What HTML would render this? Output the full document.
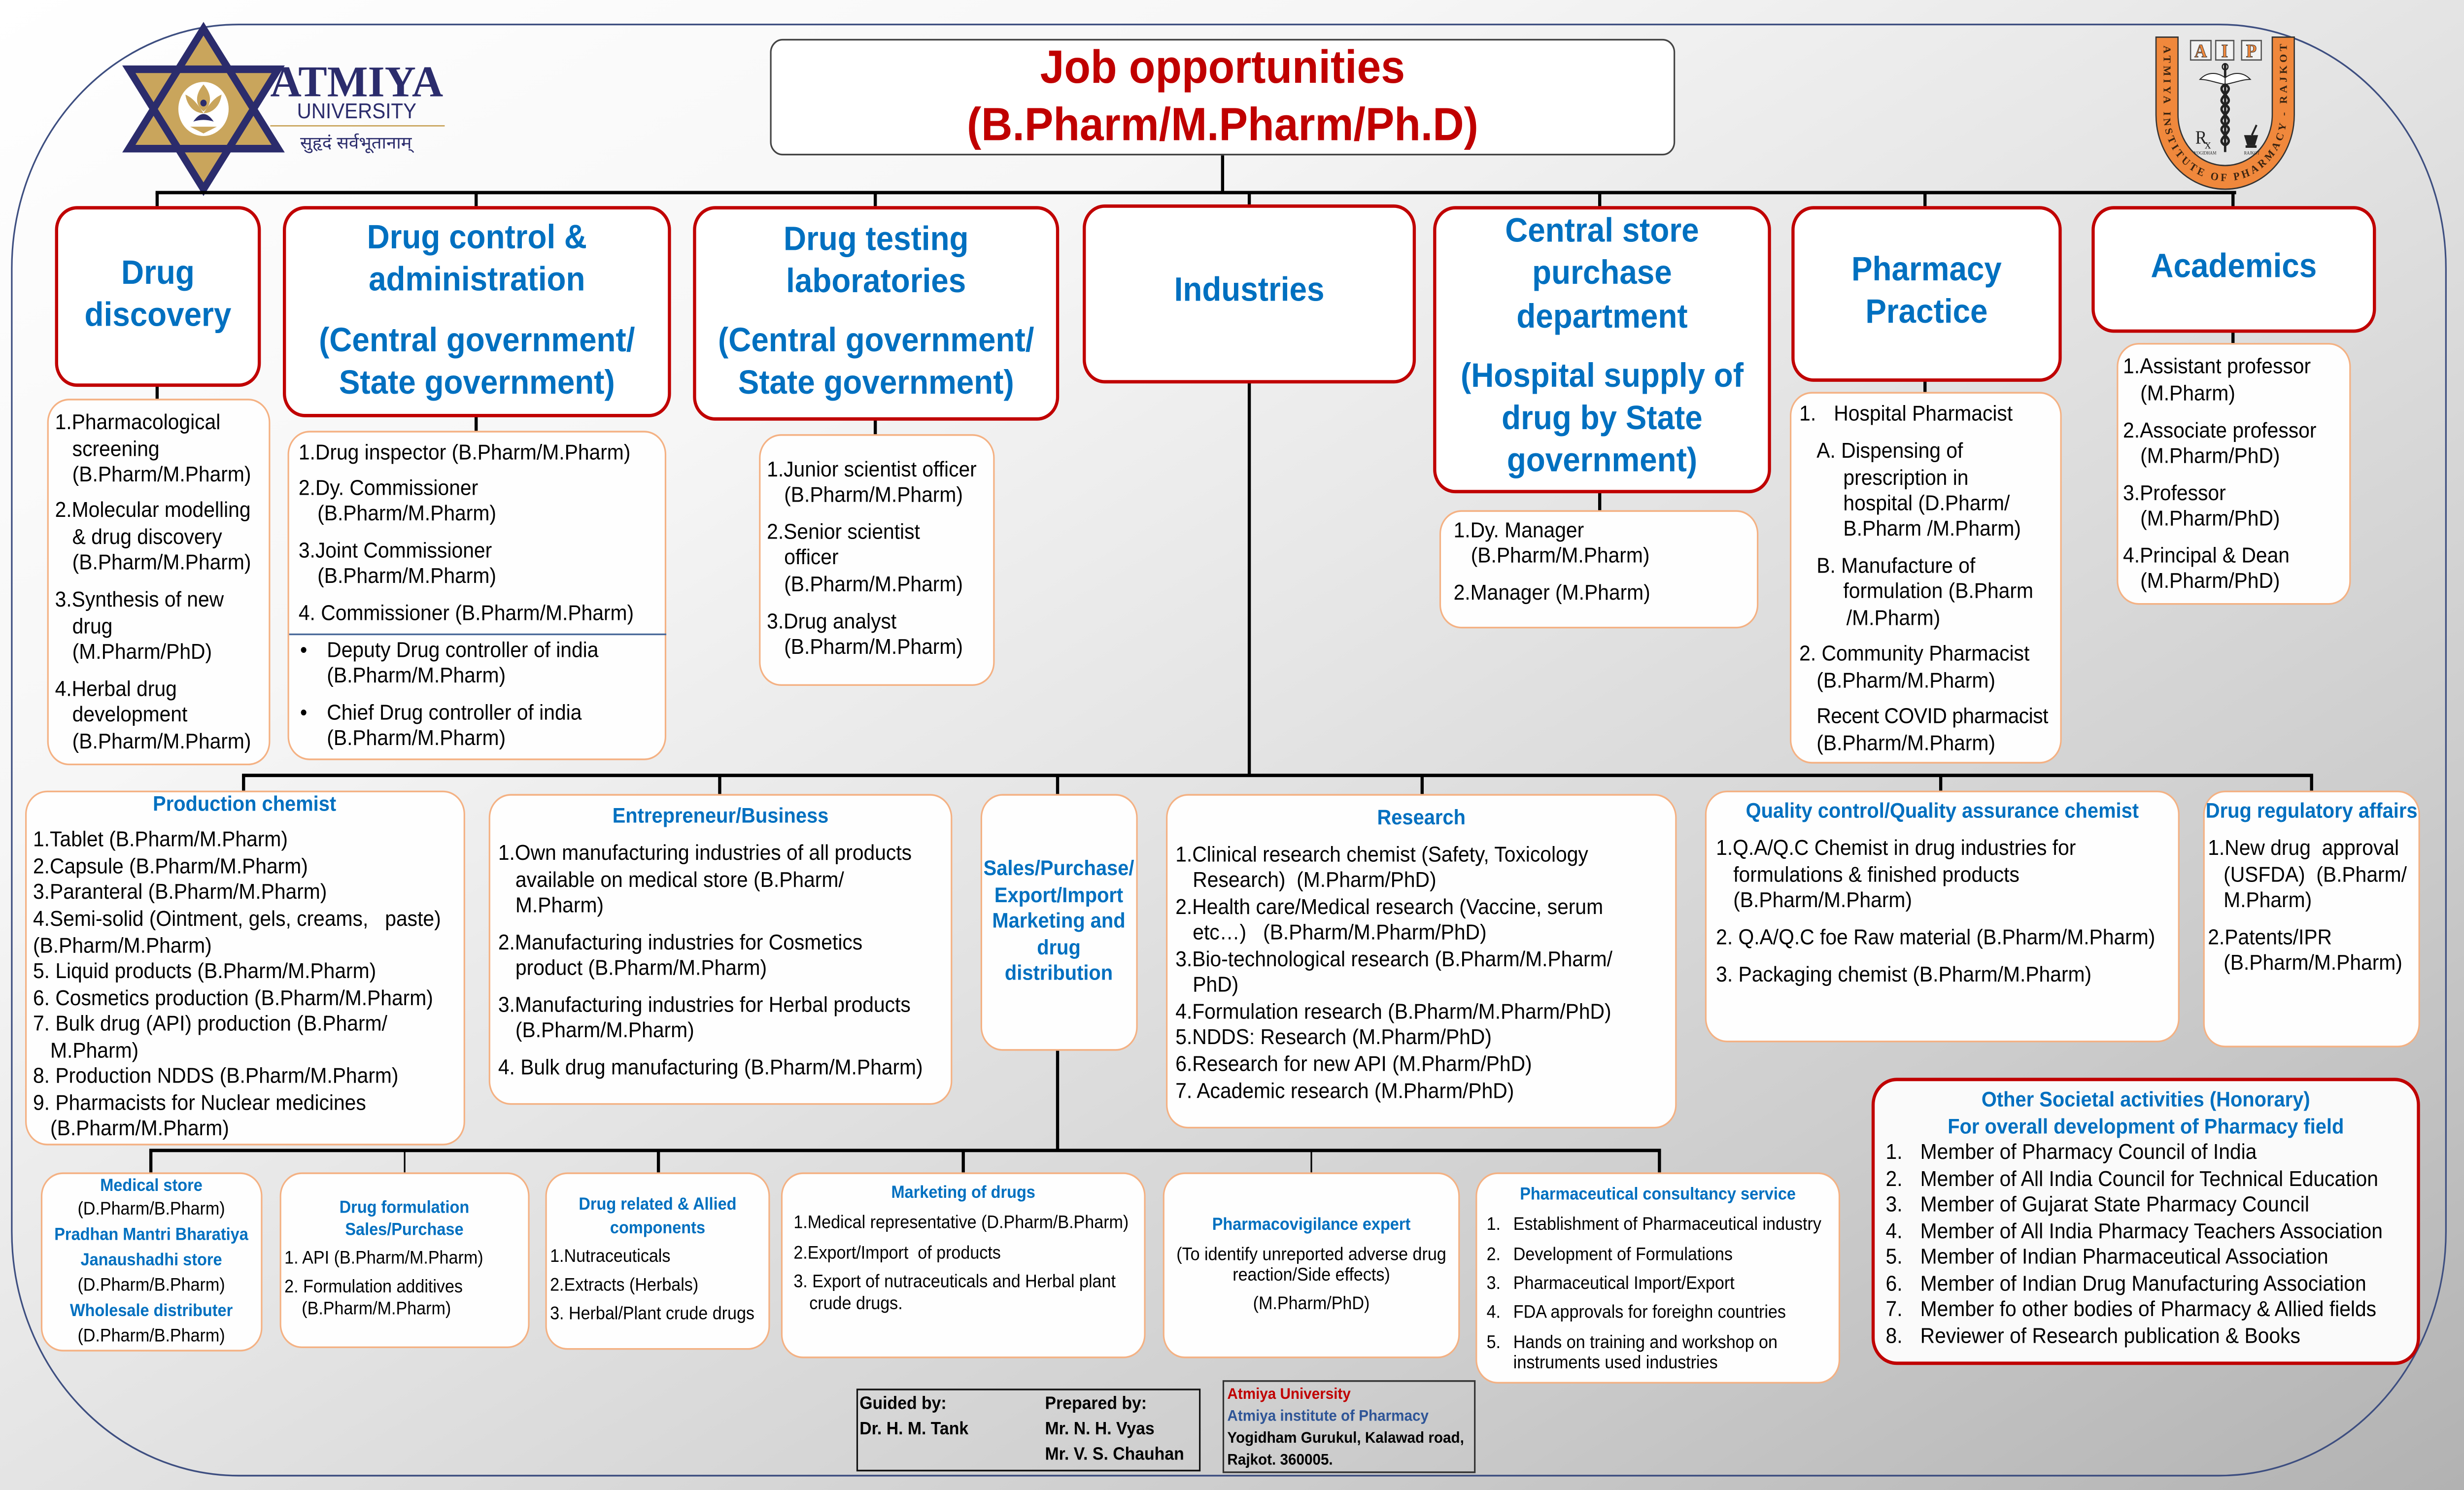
<!DOCTYPE html>
<html><head><meta charset="utf-8"><style>
html,body{margin:0;padding:0;width:100%;height:100%;overflow:hidden;background:#e0e0e0;}
#root{position:fixed;left:0;top:0;width:100vw;height:100vh;display:block;}
#s{position:relative;width:1568px;height:882px;background:linear-gradient(to bottom right,#ffffff 0%,#f6f6f6 28%,#e4e4e4 50%,#cdcdcd 75%,#b2b2b2 100%);font-family:"Liberation Sans",Arial,sans-serif;overflow:hidden;}
#s div{position:absolute;box-sizing:border-box;}
.t{white-space:pre;font-size:12.8px;line-height:16px;color:#000;}
.c{text-align:center;}
.hd{color:#0070c0;font-weight:bold;font-size:20px;line-height:25px;text-align:center;white-space:nowrap;}
.hb{border:2px solid #c00000;border-radius:14px;background:#fff;}
.pb{border:1.6px solid #f4b183;border-radius:14px;background:#fefefe;}
.k{background:#000;}
.mt{font-size:12.5px;line-height:16px;color:#0070c0;font-weight:bold;white-space:nowrap;text-align:center;}
.s{font-size:10.7px;line-height:13px;white-space:pre;color:#000;}
.st{font-size:10.2px;line-height:13px;color:#0070c0;font-weight:bold;white-space:nowrap;text-align:center;}
.f{font-size:10.6px;line-height:13px;font-weight:bold;color:#000;white-space:pre;}
.a{font-size:9.3px;line-height:13px;font-weight:bold;color:#000;white-space:pre;}
</style></head><body>
<svg id="root" viewBox="0 0 1568 882" preserveAspectRatio="none" xmlns="http://www.w3.org/2000/svg">
<foreignObject x="0" y="0" width="1568" height="882">
<div xmlns="http://www.w3.org/1999/xhtml" id="s">

<!-- frame -->
<div style="left:7px;top:14px;width:1550px;height:860px;border:0.8px solid #3d4e80;border-radius:145px;"></div>

<!-- Atmiya logo -->
<svg style="position:absolute;left:0;top:0;overflow:visible" width="300" height="120" viewBox="0 0 300 120">
<polygon points="129.5,17 177,88 82,88" fill="#c9a55c"/>
<polygon points="129.5,112 177,41 82,41" fill="#c9a55c"/>
<polygon points="129.5,17 177,88 82,88" fill="none" stroke="#2b2c6c" stroke-width="4.5"/>
<polygon points="129.5,112 177,41 82,41" fill="none" stroke="#2b2c6c" stroke-width="4.5"/>
<circle cx="129.5" cy="64.5" r="17" fill="#fff" stroke="#c9a55c" stroke-width="2"/>
<path d="M129.5,50 C124,56 124,62 129.5,66 C135,62 135,56 129.5,50Z" fill="#c9a55c"/>
<path d="M118,56 C119,63 124,67 129.5,67 C126,62 123,58 118,56Z" fill="#c9a55c"/>
<path d="M141,56 C140,63 135,67 129.5,67 C133,62 136,58 141,56Z" fill="#c9a55c"/>
<circle cx="129.5" cy="61" r="2" fill="#2b2c6c"/>
<path d="M123,72 Q129.5,63 136,72 Q129.5,70 123,72Z" fill="#2b2c6c"/>
<path d="M121,75 L138,75 L129.5,79Z" fill="#c9a55c"/>
<text x="172" y="57" font-family="Liberation Serif" font-weight="bold" font-size="26" fill="#2b2c6c" textLength="110" lengthAdjust="spacingAndGlyphs">ATMIYA</text>
<text x="189" y="70" font-family="Liberation Sans" font-size="12.6" fill="#2b2c6c" textLength="76" lengthAdjust="spacingAndGlyphs">UNIVERSITY</text>
<line x1="172" y1="74.5" x2="283" y2="74.5" stroke="#c9a55c" stroke-width="0.8"/>
<text x="191" y="88" font-family="Liberation Sans, sans-serif" font-size="10" fill="#2b2c6c" textLength="71" lengthAdjust="spacingAndGlyphs">सुहृदं सर्वभूतानाम्</text>
</svg>

<!-- AIP logo -->
<svg style="position:absolute;left:1360px;top:15px;overflow:visible" width="110" height="105" viewBox="1360 15 110 105">
<defs><path id="ap" d="M1376.8,24 L1376.8,68 A39.2,39.2 0 0 0 1455.2,68 L1455.2,24"/></defs>
<path d="M1372,22 L1372,68 A44,44 0 0 0 1460,68 L1460,22 L1446,22 L1446,68 A30,30 0 0 1 1386,68 L1386,22 Z" fill="#f0883c" stroke="#333" stroke-width="0.8"/>
<text font-family="Liberation Serif" font-weight="bold" font-size="6.5" fill="#3b2410"><textPath href="#ap" startOffset="3" textLength="206" lengthAdjust="spacing">ATMIYA INSTITUTE OF PHARMACY - RAJKOT</textPath></text>
<rect x="1394" y="24" width="13" height="11.5" fill="#f3f3f3" stroke="#555" stroke-width="0.8"/>
<rect x="1410" y="24" width="11.5" height="11.5" fill="#f3f3f3" stroke="#555" stroke-width="0.8"/>
<rect x="1426.5" y="24" width="12.5" height="11.5" fill="#f3f3f3" stroke="#555" stroke-width="0.8"/>
<text x="1400.5" y="33.8" text-anchor="middle" font-family="Liberation Serif" font-weight="bold" font-size="11" fill="#f0883c" stroke="#333" stroke-width="0.3">A</text>
<text x="1415.7" y="33.8" text-anchor="middle" font-family="Liberation Serif" font-weight="bold" font-size="11" fill="#f0883c" stroke="#333" stroke-width="0.3">I</text>
<text x="1432.7" y="33.8" text-anchor="middle" font-family="Liberation Serif" font-weight="bold" font-size="11" fill="#f0883c" stroke="#333" stroke-width="0.3">P</text>
<line x1="1416" y1="38" x2="1416" y2="90" stroke="#222" stroke-width="1.5"/>
<circle cx="1416" cy="39.5" r="1.8" fill="none" stroke="#222" stroke-width="0.8"/>
<path d="M1416,46 C1410,42 1404,43 1400,47 C1405,47 1410,49 1416,50Z" fill="#fff" stroke="#222" stroke-width="0.6"/>
<path d="M1416,46 C1422,42 1428,43 1432,47 C1427,47 1422,49 1416,50Z" fill="#fff" stroke="#222" stroke-width="0.6"/>
<path d="M1416,50 C1424,54 1408,58 1416,62 C1424,66 1408,70 1416,74 C1424,78 1408,82 1416,86" fill="none" stroke="#222" stroke-width="1.5"/>
<path d="M1416,50 C1408,54 1424,58 1416,62 C1408,66 1424,70 1416,74 C1408,78 1424,82 1416,86" fill="none" stroke="#222" stroke-width="1.5"/>
<text x="1397" y="85" font-family="Liberation Serif" font-size="11" fill="#222">R</text>
<text x="1403" y="88" font-family="Liberation Serif" font-size="8" fill="#222">x</text>
<path d="M1428,80 L1437,80 L1435,86 L1430,86Z" fill="#222"/>
<rect x="1429" y="86" width="7" height="1.5" fill="#222"/>
<line x1="1433" y1="80" x2="1436" y2="74" stroke="#222" stroke-width="1.2"/>
<text x="1396" y="91.5" font-family="Liberation Serif" font-size="2.6" fill="#222">YOGIDHAM</text>
<text x="1428" y="91.5" font-family="Liberation Serif" font-size="2.6" fill="#222">RAJKOT</text>
</svg>

<!-- title -->
<div style="left:490px;top:23px;width:576px;height:69px;border:1px solid #444;border-radius:8px;background:#fff;"></div>
<div style="left:490px;top:22.5px;width:576px;text-align:center;font-weight:bold;font-size:27.5px;line-height:34px;color:#c00000;white-space:nowrap;">Job opportunities</div>
<div style="left:490px;top:56.5px;width:576px;text-align:center;font-weight:bold;font-size:27.5px;line-height:34px;color:#c00000;white-space:nowrap;">(B.Pharm/M.Pharm/Ph.D)</div>

<!-- connectors top -->
<div class="k" style="left:777px;top:92px;width:2px;height:22px"></div>
<div class="k" style="left:99px;top:113px;width:1324px;height:2.2px"></div>
<div class="k" style="left:99.1px;top:114px;width:1.8px;height:8px"></div>
<div class="k" style="left:302.1px;top:114px;width:1.8px;height:8px"></div>
<div class="k" style="left:556.1px;top:114px;width:1.8px;height:8px"></div>
<div class="k" style="left:794.1px;top:114px;width:1.8px;height:7px"></div>
<div class="k" style="left:1017.1px;top:114px;width:1.8px;height:8px"></div>
<div class="k" style="left:1224.1px;top:114px;width:1.8px;height:8px"></div>
<div class="k" style="left:1420.1px;top:114px;width:1.8px;height:8px"></div>

<div class="k" style="left:99.2px;top:228px;width:1.6px;height:9px"></div>
<div class="k" style="left:302.2px;top:246px;width:1.6px;height:10px"></div>
<div class="k" style="left:556.2px;top:248px;width:1.6px;height:10px"></div>
<div class="k" style="left:1017.2px;top:291px;width:1.6px;height:12px"></div>
<div class="k" style="left:1224.2px;top:225px;width:1.6px;height:8px"></div>
<div class="k" style="left:1420.2px;top:196px;width:1.6px;height:8px"></div>
<div class="k" style="left:794.1px;top:226px;width:1.8px;height:233px"></div>

<!-- second bar -->
<div class="k" style="left:154px;top:457.5px;width:1318px;height:2.2px"></div>
<div class="k" style="left:154.1px;top:459px;width:1.8px;height:9px"></div>
<div class="k" style="left:457.1px;top:459px;width:1.8px;height:11px"></div>
<div class="k" style="left:672.1px;top:459px;width:1.8px;height:11px"></div>
<div class="k" style="left:904.1px;top:459px;width:1.8px;height:11px"></div>
<div class="k" style="left:1234.1px;top:459px;width:1.8px;height:9px"></div>
<div class="k" style="left:1470.1px;top:459px;width:1.8px;height:9px"></div>
<div class="k" style="left:672.1px;top:621px;width:1.8px;height:60px"></div>

<!-- bottom bar -->
<div class="k" style="left:95px;top:680px;width:962px;height:2.2px"></div>
<div class="k" style="left:95.1px;top:681px;width:1.8px;height:13px"></div>
<div class="k" style="left:256.6px;top:681px;width:1.8px;height:13px"></div>
<div class="k" style="left:418.1px;top:681px;width:1.8px;height:13px"></div>
<div class="k" style="left:612.1px;top:681px;width:1.8px;height:13px"></div>
<div class="k" style="left:833.7px;top:681px;width:1.8px;height:13px"></div>
<div class="k" style="left:1055.1px;top:681px;width:1.8px;height:13px"></div>

<!-- header boxes -->
<div class="hb" style="left:35px;top:122px;width:131px;height:107px"></div>
<div class="hb" style="left:180px;top:122px;width:247px;height:125px"></div>
<div class="hb" style="left:441px;top:122px;width:233px;height:127px"></div>
<div class="hb" style="left:689px;top:121px;width:212px;height:106px"></div>
<div class="hb" style="left:912px;top:122px;width:215px;height:170px"></div>
<div class="hb" style="left:1140px;top:122px;width:172px;height:104px"></div>
<div class="hb" style="left:1331px;top:122px;width:181px;height:75px"></div>

<div class="hd" style="left:35px;width:131px;top:149.5px">Drug</div>
<div class="hd" style="left:35px;width:131px;top:174.5px">discovery</div>
<div class="hd" style="left:180px;width:247px;top:128.5px">Drug control &amp;</div>
<div class="hd" style="left:180px;width:247px;top:153.5px">administration</div>
<div class="hd" style="left:180px;width:247px;top:189.5px">(Central government/</div>
<div class="hd" style="left:180px;width:247px;top:214.5px">State government)</div>
<div class="hd" style="left:441px;width:233px;top:129.5px">Drug testing</div>
<div class="hd" style="left:441px;width:233px;top:154.5px">laboratories</div>
<div class="hd" style="left:441px;width:233px;top:189.5px">(Central government/</div>
<div class="hd" style="left:441px;width:233px;top:214.5px">State government)</div>
<div class="hd" style="left:689px;width:212px;top:159.5px">Industries</div>
<div class="hd" style="left:912px;width:215px;top:124.5px">Central store</div>
<div class="hd" style="left:912px;width:215px;top:149.5px">purchase</div>
<div class="hd" style="left:912px;width:215px;top:175.5px">department</div>
<div class="hd" style="left:912px;width:215px;top:210.5px">(Hospital supply of</div>
<div class="hd" style="left:912px;width:215px;top:235.5px">drug by State</div>
<div class="hd" style="left:912px;width:215px;top:260.5px">government)</div>
<div class="hd" style="left:1140px;width:172px;top:147.5px">Pharmacy</div>
<div class="hd" style="left:1140px;width:172px;top:172.5px">Practice</div>
<div class="hd" style="left:1331px;width:181px;top:145.5px">Academics</div>

<!-- list boxes top -->
<div class="pb" style="left:30px;top:236px;width:142px;height:217px"></div>
<div class="pb" style="left:183px;top:255px;width:241px;height:195px"></div>
<div class="pb" style="left:483px;top:257px;width:150px;height:149px"></div>
<div class="pb" style="left:916px;top:302px;width:203px;height:70px"></div>
<div class="pb" style="left:1139px;top:232px;width:173px;height:220px"></div>
<div class="pb" style="left:1347px;top:203px;width:149px;height:155px"></div>

<div class="t" style="left:35px;top:242px">1.Pharmacological</div>
<div class="t" style="left:46px;top:258px">screening</div>
<div class="t" style="left:46px;top:273px">(B.Pharm/M.Pharm)</div>
<div class="t" style="left:35px;top:294px">2.Molecular modelling</div>
<div class="t" style="left:46px;top:310px">&amp; drug discovery</div>
<div class="t" style="left:46px;top:325px">(B.Pharm/M.Pharm)</div>
<div class="t" style="left:35px;top:347px">3.Synthesis of new</div>
<div class="t" style="left:46px;top:363px">drug</div>
<div class="t" style="left:46px;top:378px">(M.Pharm/PhD)</div>
<div class="t" style="left:35px;top:400px">4.Herbal drug</div>
<div class="t" style="left:46px;top:415px">development</div>
<div class="t" style="left:46px;top:431px">(B.Pharm/M.Pharm)</div>

<div class="t" style="left:190px;top:260px">1.Drug inspector (B.Pharm/M.Pharm)</div>
<div class="t" style="left:190px;top:281px">2.Dy. Commissioner</div>
<div class="t" style="left:202px;top:296px">(B.Pharm/M.Pharm)</div>
<div class="t" style="left:190px;top:318px">3.Joint Commissioner</div>
<div class="t" style="left:202px;top:333px">(B.Pharm/M.Pharm)</div>
<div class="t" style="left:190px;top:355px">4. Commissioner (B.Pharm/M.Pharm)</div>
<div style="left:184px;top:374.5px;width:240px;height:0.8px;background:#4a6a9a"></div>
<div class="t" style="left:191px;top:377px">•</div>
<div class="t" style="left:208px;top:377px">Deputy Drug controller of india</div>
<div class="t" style="left:208px;top:392px">(B.Pharm/M.Pharm)</div>
<div class="t" style="left:191px;top:414px">•</div>
<div class="t" style="left:208px;top:414px">Chief Drug controller of india</div>
<div class="t" style="left:208px;top:429px">(B.Pharm/M.Pharm)</div>

<div class="t" style="left:488px;top:270px">1.Junior scientist officer</div>
<div class="t" style="left:499px;top:285px">(B.Pharm/M.Pharm)</div>
<div class="t" style="left:488px;top:307px">2.Senior scientist</div>
<div class="t" style="left:499px;top:322px">officer</div>
<div class="t" style="left:499px;top:338px">(B.Pharm/M.Pharm)</div>
<div class="t" style="left:488px;top:360px">3.Drug analyst</div>
<div class="t" style="left:499px;top:375px">(B.Pharm/M.Pharm)</div>

<div class="t" style="left:925px;top:306px">1.Dy. Manager</div>
<div class="t" style="left:936px;top:321px">(B.Pharm/M.Pharm)</div>
<div class="t" style="left:925px;top:343px">2.Manager (M.Pharm)</div>

<div class="t" style="left:1145px;top:237px">1.</div>
<div class="t" style="left:1167px;top:237px">Hospital Pharmacist</div>
<div class="t" style="left:1156px;top:259px">A. Dispensing of</div>
<div class="t" style="left:1173px;top:275px">prescription in</div>
<div class="t" style="left:1173px;top:290px">hospital (D.Pharm/</div>
<div class="t" style="left:1173px;top:305px">B.Pharm /M.Pharm)</div>
<div class="t" style="left:1156px;top:327px">B. Manufacture of</div>
<div class="t" style="left:1173px;top:342px">formulation (B.Pharm</div>
<div class="t" style="left:1175px;top:358px">/M.Pharm)</div>
<div class="t" style="left:1145px;top:379px">2. Community Pharmacist</div>
<div class="t" style="left:1156px;top:395px">(B.Pharm/M.Pharm)</div>
<div class="t" style="left:1156px;top:416px;letter-spacing:-0.15px">Recent COVID pharmacist</div>
<div class="t" style="left:1156px;top:432px">(B.Pharm/M.Pharm)</div>

<div class="t" style="left:1351px;top:209px">1.Assistant professor</div>
<div class="t" style="left:1362px;top:225px">(M.Pharm)</div>
<div class="t" style="left:1351px;top:247px">2.Associate professor</div>
<div class="t" style="left:1362px;top:262px">(M.Pharm/PhD)</div>
<div class="t" style="left:1351px;top:284px">3.Professor</div>
<div class="t" style="left:1362px;top:299px">(M.Pharm/PhD)</div>
<div class="t" style="left:1351px;top:321px">4.Principal &amp; Dean</div>
<div class="t" style="left:1362px;top:336px">(M.Pharm/PhD)</div>

<!-- middle row -->
<div class="pb" style="left:15.6px;top:468px;width:280px;height:209.5px"></div>
<div class="pb" style="left:311px;top:470px;width:295px;height:184px"></div>
<div class="pb" style="left:623.6px;top:470px;width:100.4px;height:152px"></div>
<div class="pb" style="left:742px;top:470px;width:325px;height:198px"></div>
<div class="pb" style="left:1085px;top:468px;width:302px;height:149px"></div>
<div class="pb" style="left:1402px;top:468px;width:138px;height:152px"></div>

<div class="mt" style="left:15.6px;width:280px;top:468px">Production chemist</div>
<div class="t" style="left:21px;top:489px">1.Tablet (B.Pharm/M.Pharm)</div>
<div class="t" style="left:21px;top:505px">2.Capsule (B.Pharm/M.Pharm)</div>
<div class="t" style="left:21px;top:520px">3.Paranteral (B.Pharm/M.Pharm)</div>
<div class="t" style="left:21px;top:536px">4.Semi-solid (Ointment, gels, creams,   paste)</div>
<div class="t" style="left:21px;top:552px">(B.Pharm/M.Pharm)</div>
<div class="t" style="left:21px;top:567px">5. Liquid products (B.Pharm/M.Pharm)</div>
<div class="t" style="left:21px;top:583px">6. Cosmetics production (B.Pharm/M.Pharm)</div>
<div class="t" style="left:21px;top:598px">7. Bulk drug (API) production (B.Pharm/</div>
<div class="t" style="left:32px;top:614px">M.Pharm)</div>
<div class="t" style="left:21px;top:629px">8. Production NDDS (B.Pharm/M.Pharm)</div>
<div class="t" style="left:21px;top:645px">9. Pharmacists for Nuclear medicines</div>
<div class="t" style="left:32px;top:660px">(B.Pharm/M.Pharm)</div>

<div class="mt" style="left:311px;width:295px;top:475px">Entrepreneur/Business</div>
<div class="t" style="left:317px;top:497px">1.Own manufacturing industries of all products</div>
<div class="t" style="left:328px;top:513px">available on medical store (B.Pharm/</div>
<div class="t" style="left:328px;top:528px">M.Pharm)</div>
<div class="t" style="left:317px;top:550px">2.Manufacturing industries for Cosmetics</div>
<div class="t" style="left:328px;top:565px">product (B.Pharm/M.Pharm)</div>
<div class="t" style="left:317px;top:587px">3.Manufacturing industries for Herbal products</div>
<div class="t" style="left:328px;top:602px">(B.Pharm/M.Pharm)</div>
<div class="t" style="left:317px;top:624px">4. Bulk drug manufacturing (B.Pharm/M.Pharm)</div>

<div class="mt" style="left:623.6px;width:100.4px;top:506px">Sales/Purchase/</div>
<div class="mt" style="left:623.6px;width:100.4px;top:522px">Export/Import</div>
<div class="mt" style="left:623.6px;width:100.4px;top:537px">Marketing and</div>
<div class="mt" style="left:623.6px;width:100.4px;top:553px">drug</div>
<div class="mt" style="left:623.6px;width:100.4px;top:568px">distribution</div>

<div class="mt" style="left:742px;width:325px;top:476px">Research</div>
<div class="t" style="left:748px;top:498px">1.Clinical research chemist (Safety, Toxicology</div>
<div class="t" style="left:759px;top:513px">Research)  (M.Pharm/PhD)</div>
<div class="t" style="left:748px;top:529px">2.Health care/Medical research (Vaccine, serum</div>
<div class="t" style="left:759px;top:544px">etc…)   (B.Pharm/M.Pharm/PhD)</div>
<div class="t" style="left:748px;top:560px">3.Bio-technological research (B.Pharm/M.Pharm/</div>
<div class="t" style="left:759px;top:575px">PhD)</div>
<div class="t" style="left:748px;top:591px">4.Formulation research (B.Pharm/M.Pharm/PhD)</div>
<div class="t" style="left:748px;top:606px">5.NDDS: Research (M.Pharm/PhD)</div>
<div class="t" style="left:748px;top:622px">6.Research for new API (M.Pharm/PhD)</div>
<div class="t" style="left:748px;top:638px">7. Academic research (M.Pharm/PhD)</div>

<div class="mt" style="left:1085px;width:302px;top:472px">Quality control/Quality assurance chemist</div>
<div class="t" style="left:1092px;top:494px">1.Q.A/Q.C Chemist in drug industries for</div>
<div class="t" style="left:1103px;top:510px">formulations &amp; finished products</div>
<div class="t" style="left:1103px;top:525px">(B.Pharm/M.Pharm)</div>
<div class="t" style="left:1092px;top:547px">2. Q.A/Q.C foe Raw material (B.Pharm/M.Pharm)</div>
<div class="t" style="left:1092px;top:569px">3. Packaging chemist (B.Pharm/M.Pharm)</div>

<div class="mt" style="left:1402px;width:138px;top:472px">Drug regulatory affairs</div>
<div class="t" style="left:1405px;top:494px">1.New drug  approval</div>
<div class="t" style="left:1415px;top:510px">(USFDA)  (B.Pharm/</div>
<div class="t" style="left:1415px;top:525px">M.Pharm)</div>
<div class="t" style="left:1405px;top:547px">2.Patents/IPR</div>
<div class="t" style="left:1415px;top:562px">(B.Pharm/M.Pharm)</div>

<!-- societal -->
<div style="left:1191px;top:638px;width:349px;height:170px;border:2px solid #c00000;border-radius:16px;background:#fafafa;"></div>
<div class="mt" style="left:1191px;width:349px;top:643px">Other Societal activities (Honorary)</div>
<div class="mt" style="left:1191px;width:349px;top:659px">For overall development of Pharmacy field</div>
<div class="t" style="left:1200px;top:674px">1.</div><div class="t" style="left:1222px;top:674px">Member of Pharmacy Council of India</div>
<div class="t" style="left:1200px;top:690px">2.</div><div class="t" style="left:1222px;top:690px">Member of All India Council for Technical Education</div>
<div class="t" style="left:1200px;top:705px">3.</div><div class="t" style="left:1222px;top:705px">Member of Gujarat State Pharmacy Council</div>
<div class="t" style="left:1200px;top:721px">4.</div><div class="t" style="left:1222px;top:721px">Member of All India Pharmacy Teachers Association</div>
<div class="t" style="left:1200px;top:736px">5.</div><div class="t" style="left:1222px;top:736px">Member of Indian Pharmaceutical Association</div>
<div class="t" style="left:1200px;top:752px">6.</div><div class="t" style="left:1222px;top:752px">Member of Indian Drug Manufacturing Association</div>
<div class="t" style="left:1200px;top:767px">7.</div><div class="t" style="left:1222px;top:767px">Member fo other bodies of Pharmacy &amp; Allied fields</div>
<div class="t" style="left:1200px;top:783px">8.</div><div class="t" style="left:1222px;top:783px">Reviewer of Research publication &amp; Books</div>

<!-- bottom row -->
<div class="pb" style="left:26px;top:693.6px;width:140.6px;height:106px"></div>
<div class="pb" style="left:178px;top:694px;width:158.6px;height:103.5px"></div>
<div class="pb" style="left:347px;top:694px;width:143px;height:105px"></div>
<div class="pb" style="left:497px;top:694px;width:232px;height:110px"></div>
<div class="pb" style="left:740px;top:694px;width:189px;height:110px"></div>
<div class="pb" style="left:939px;top:694px;width:232px;height:125px"></div>

<div class="st" style="left:26px;width:140.6px;top:695.5px">Medical store</div>
<div class="s c" style="left:26px;width:140.6px;top:709.5px">(D.Pharm/B.Pharm)</div>
<div class="st" style="left:26px;width:140.6px;top:724.5px">Pradhan Mantri Bharatiya</div>
<div class="st" style="left:26px;width:140.6px;top:739.5px">Janaushadhi store</div>
<div class="s c" style="left:26px;width:140.6px;top:754.5px">(D.Pharm/B.Pharm)</div>
<div class="st" style="left:26px;width:140.6px;top:769.5px">Wholesale distributer</div>
<div class="s c" style="left:26px;width:140.6px;top:784.5px">(D.Pharm/B.Pharm)</div>

<div class="st" style="left:178px;width:158.6px;top:708.5px">Drug formulation</div>
<div class="st" style="left:178px;width:158.6px;top:721.5px">Sales/Purchase</div>
<div class="s" style="left:181px;top:738.5px">1. API (B.Pharm/M.Pharm)</div>
<div class="s" style="left:181px;top:755.5px">2. Formulation additives</div>
<div class="s" style="left:192px;top:768.5px">(B.Pharm/M.Pharm)</div>

<div class="st" style="left:347px;width:143px;top:706.5px">Drug related &amp; Allied</div>
<div class="st" style="left:347px;width:143px;top:720.5px">components</div>
<div class="s" style="left:350px;top:737.5px">1.Nutraceuticals</div>
<div class="s" style="left:350px;top:754.5px">2.Extracts (Herbals)</div>
<div class="s" style="left:350px;top:771.5px">3. Herbal/Plant crude drugs</div>

<div class="st" style="left:497px;width:232px;top:699.5px">Marketing of drugs</div>
<div class="s" style="left:505px;top:717.5px">1.Medical representative (D.Pharm/B.Pharm)</div>
<div class="s" style="left:505px;top:735.5px">2.Export/Import  of products</div>
<div class="s" style="left:505px;top:752.5px">3. Export of nutraceuticals and Herbal plant</div>
<div class="s" style="left:515px;top:765.5px">crude drugs.</div>

<div class="st" style="left:740px;width:189px;top:718.5px">Pharmacovigilance expert</div>
<div class="s c" style="left:740px;width:189px;top:736.5px">(To identify unreported adverse drug</div>
<div class="s c" style="left:740px;width:189px;top:748.5px">reaction/Side effects)</div>
<div class="s c" style="left:740px;width:189px;top:765.5px">(M.Pharm/PhD)</div>

<div class="st" style="left:939px;width:232px;top:700.5px">Pharmaceutical consultancy service</div>
<div class="s" style="left:946px;top:718.5px">1.</div><div class="s" style="left:963px;top:718.5px">Establishment of Pharmaceutical industry</div>
<div class="s" style="left:946px;top:736.5px">2.</div><div class="s" style="left:963px;top:736.5px">Development of Formulations</div>
<div class="s" style="left:946px;top:753.5px">3.</div><div class="s" style="left:963px;top:753.5px">Pharmaceutical Import/Export</div>
<div class="s" style="left:946px;top:770.5px">4.</div><div class="s" style="left:963px;top:770.5px">FDA approvals for foreighn countries</div>
<div class="s" style="left:946px;top:788.5px">5.</div><div class="s" style="left:963px;top:788.5px">Hands on training and workshop on</div>
<div class="s" style="left:963px;top:800.5px">instruments used industries</div>

<!-- footer -->
<div style="left:544.6px;top:822px;width:219px;height:49px;border:1.5px solid #111;"></div>
<div class="f" style="left:547px;top:824.5px">Guided by:</div>
<div class="f" style="left:547px;top:839.5px">Dr. H. M. Tank</div>
<div class="f" style="left:665px;top:824.5px">Prepared by:</div>
<div class="f" style="left:665px;top:839.5px">Mr. N. H. Vyas</div>
<div class="f" style="left:665px;top:854.5px">Mr. V. S. Chauhan</div>

<div style="left:778px;top:817px;width:161px;height:55px;border:1.5px solid #333;"></div>
<div class="a" style="left:781px;top:818.5px;color:#c00000">Atmiya University</div>
<div class="a" style="left:781px;top:831.5px;color:#2f5597">Atmiya institute of Pharmacy</div>
<div class="a" style="left:781px;top:844.5px">Yogidham Gurukul, Kalawad road,</div>
<div class="a" style="left:781px;top:857.5px">Rajkot. 360005.</div>

</div>
</foreignObject>
</svg>
</body></html>
